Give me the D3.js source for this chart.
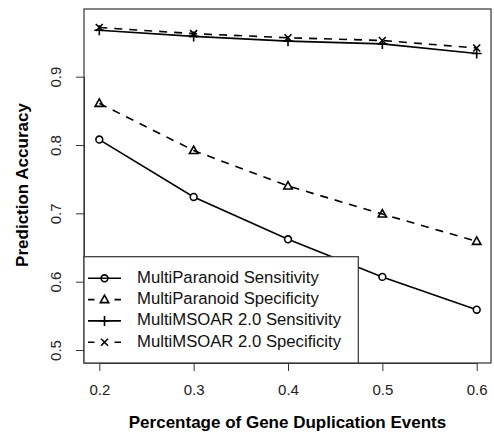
<!DOCTYPE html>
<html><head><meta charset="utf-8">
<script src="https://cdn.jsdelivr.net/npm/d3@7"></script>
<style>body{margin:0;background:#fff}svg{display:block}text{font-family:"Liberation Sans",Arial,sans-serif}</style>
</head><body><svg id="c" width="494" height="437"></svg>
<script>
const xs = [0.2, 0.3, 0.4, 0.5, 0.6];
const paranoidSens = [0.808, 0.724, 0.662, 0.607, 0.559];
const paranoidSpec = [0.861, 0.792, 0.740, 0.699, 0.659];
const msoarSens = [0.968, 0.959, 0.952, 0.948, 0.934];
const msoarSpec = [0.972, 0.963, 0.957, 0.953, 0.942];
const xTicks = [0.2, 0.3, 0.4, 0.5, 0.6];
const yTicks = [0.5, 0.6, 0.7, 0.8, 0.9];
const seriesNames = ["MultiParanoid Sensitivity", "MultiParanoid Specificity", "MultiMSOAR 2.0 Sensitivity", "MultiMSOAR 2.0 Specificity"];

const svg = d3.select("#c");
const L = 84, R = 491, T = 9, B = 363;
const x = d3.scaleLinear().domain([0.2, 0.6]).range([99.3, 476.7]);
const y = d3.scaleLinear().domain([0.5, 0.9]).range([350, 76.7]);

const series = [
  {vals: paranoidSens, dash: null, sym: "circle"},
  {vals: paranoidSpec, dash: "8,7", sym: "triangle"},
  {vals: msoarSens, dash: null, sym: "plus"},
  {vals: msoarSpec, dash: "8,7", sym: "cross"}
];

function symbol(g, type, cx, cy) {
  const s = g.append("g").attr("transform", `translate(${cx},${cy})`)
    .attr("fill", "none").attr("stroke", "#000").attr("stroke-width", 1.6);
  if (type === "circle") s.append("circle").attr("r", 3.4);
  else if (type === "triangle") s.append("path").attr("d", "M0,-4.4L4.2,3L-4.2,3Z");
  else if (type === "plus") s.append("path").attr("d", "M-5,0H5M0,-5V5");
  else if (type === "cross") s.append("path").attr("d", "M-3.5,-3.5L3.5,3.5M-3.5,3.5L3.5,-3.5");
}

const line = d3.line().x((d, i) => x(xs[i])).y(d => y(d));
series.forEach(s => {
  svg.append("path").attr("d", line(s.vals)).attr("fill", "none")
    .attr("stroke", "#000").attr("stroke-width", 1.6)
    .attr("stroke-dasharray", s.dash);
});
series.forEach(s => {
  s.vals.forEach((v, i) => {
    const cx = x(xs[i]), cy = y(v);
    if (s.sym === "circle") svg.append("circle").attr("cx", cx).attr("cy", cy).attr("r", 3.4).attr("fill", "#fff");
    symbol(svg, s.sym, cx, cy);
  });
});

// box
svg.append("rect").attr("x", L).attr("y", T).attr("width", R - L).attr("height", B - T)
  .attr("fill", "none").attr("stroke", "#333").attr("stroke-width", 1.2);

// x axis
const xa = svg.append("g").attr("transform", `translate(0,${B})`)
  .call(d3.axisBottom(x).tickValues(xTicks).tickFormat(d3.format(".1f")).tickSize(8).tickSizeOuter(0));
xa.select(".domain").attr("stroke", "#333");
xa.selectAll(".tick line").attr("stroke", "#333");
xa.selectAll(".tick text").attr("font-size", 15).attr("fill", "#222")
  .attr("y", 28).attr("dy", null).attr("dominant-baseline", "middle");

// y axis
const ya = svg.append("g").attr("transform", `translate(${L},0)`)
  .call(d3.axisLeft(y).tickValues(yTicks).tickFormat(d3.format(".1f")).tickSize(8).tickSizeOuter(0));
ya.select(".domain").attr("stroke", "#333");
ya.selectAll(".tick line").attr("stroke", "#333");
ya.selectAll(".tick text").attr("font-size", 15).attr("fill", "#222")
  .attr("x", null).attr("dy", null)
  .attr("transform", "translate(-27,0) rotate(-90)")
  .attr("text-anchor", "middle").attr("dominant-baseline", "middle");

// titles
svg.append("text").attr("x", 287.5).attr("y", 423.5)
  .attr("text-anchor", "middle").attr("dominant-baseline", "middle")
  .attr("font-size", 17).attr("font-weight", "bold")
  .text("Percentage of Gene Duplication Events");
svg.append("text").attr("transform", `translate(24,185) rotate(-90)`)
  .attr("text-anchor", "middle").attr("dominant-baseline", "middle")
  .attr("font-size", 17).attr("font-weight", "bold").text("Prediction Accuracy");

// legend
const lg = svg.append("g");
lg.append("rect").attr("x", L).attr("y", 256.7).attr("width", 358.3 - L).attr("height", B - 256.7)
  .attr("fill", "#fff").attr("stroke", "#333").attr("stroke-width", 1.2);
series.forEach((s, i) => {
  const cy = 278.3 + i * 21.3;
  lg.append("line").attr("x1", 88).attr("x2", 121).attr("y1", cy).attr("y2", cy)
    .attr("stroke", "#000").attr("stroke-width", 1.6).attr("stroke-dasharray", s.dash ? "6.5,20,6.5" : null);
  symbol(lg, s.sym, 104.5, cy);
  lg.append("text").attr("x", 137).attr("y", cy).attr("dominant-baseline", "middle")
    .attr("font-size", 16.7).attr("fill", "#111").text(seriesNames[i]);
});
</script></body></html>
